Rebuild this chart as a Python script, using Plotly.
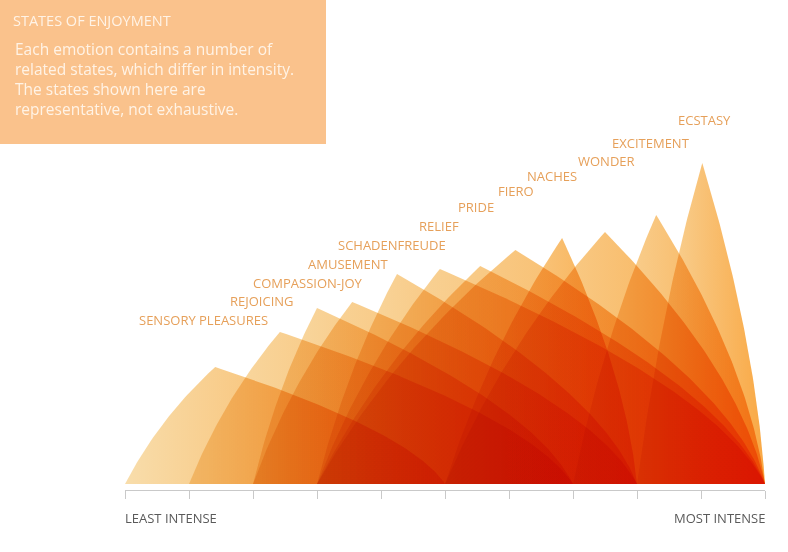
import numpy as np
import plotly.graph_objects as go

# ---------------- data ----------------
states = ["SENSORY PLEASURES", "REJOICING", "COMPASSION-JOY", "AMUSEMENT",
          "SCHADENFREUDE", "RELIEF", "PRIDE", "FIERO", "NACHES", "WONDER",
          "EXCITEMENT", "ECSTASY"]
range_start = [0, 1, 2, 2, 3, 3, 3, 3, 5, 5, 7, 8]
peak_x = [1.41, 2.42, 3.0, 3.55, 4.25, 4.92, 5.55, 6.1, 6.83, 7.5, 8.3, 9.02]
peak_h = [117, 152, 176, 182, 210, 215, 218, 234, 246, 252, 269, 321]
range_end = [5, 7, 7, 8, 8, 10, 10, 10, 8, 10, 10, 10]
tick_vals = list(range(11))

title_text = "STATES OF ENJOYMENT"
body_text = ("Each emotion contains a number of<br>related states, which differ in intensity.<br>"
             "The states shown here are<br>representative, not exhaustive.")

# ---------------- layout helpers ----------------
label_x = [1.234, 2.14, 2.86, 3.48, 4.17, 4.91, 5.48, 6.11, 6.67, 7.52, 8.22, 9.06]
label_y = [164, 183, 201, 220, 239, 258, 277, 293, 308, 323, 341, 364]

W, H = 788, 552
ML, MR, MT, MB = 125, 23, 0, 62
PW, PH = W - ML - MR, H - MT - MB
FONT = "Open Sans"


def px_to_paper_x(px):
    return (px - ML) / PW


def py_to_paper_y(py):
    return (PH - (py - MT)) / PH


def bez(p0, p1, p2, n):
    t = np.linspace(0, 1, n)
    x = (1 - t) ** 2 * p0[0] + 2 * (1 - t) * t * p1[0] + t ** 2 * p2[0]
    y = (1 - t) ** 2 * p0[1] + 2 * (1 - t) * t * p1[1] + t ** 2 * p2[1]
    return x, y


fig = go.Figure()

c_start = "rgb(248,221,171)"
c_end = "rgb(249,168,68)"

for i, name in enumerate(states):
    s, p, h, e = range_start[i], peak_x[i], peak_h[i], range_end[i]
    d = p - s
    lx, ly = bez((s, 0), (s + 0.375 * d, 0.56 * h), (p, h), 50)
    rx, ry = bez((p, h), (p + 0.85 * (e - p), 0.45 * h), (e, 0), 80)
    xs = np.concatenate([lx, rx[1:]])
    ys = np.concatenate([ly, ry[1:]])
    fig.add_trace(go.Scatter(
        x=xs, y=ys, mode="lines", fill="toself", name=name,
        line=dict(width=0, color="rgba(0,0,0,0)"),
        fillgradient=dict(type="horizontal",
                          colorscale=[[0, c_start], [1, c_end]]),
        hoverinfo="name", showlegend=False,
    ))

# state labels
for i, name in enumerate(states):
    fig.add_annotation(x=label_x[i], y=label_y[i], text=name, showarrow=False,
                       xanchor="center", yanchor="middle",
                       font=dict(family=FONT, size=13, color="#e6a05a"))

# title box
fig.add_shape(type="rect", xref="paper", yref="paper",
              x0=px_to_paper_x(0), x1=px_to_paper_x(326),
              y0=py_to_paper_y(144), y1=py_to_paper_y(0),
              fillcolor="#fac28c", line=dict(width=0), layer="below")
fig.add_annotation(xref="paper", yref="paper", x=px_to_paper_x(11), y=py_to_paper_y(21),
                   text=title_text, showarrow=False, xanchor="left", yanchor="middle",
                   font=dict(family=FONT, size=14.5, color="#fff3e6"))
fig.add_annotation(xref="paper", yref="paper", x=px_to_paper_x(13), y=py_to_paper_y(79.5),
                   text=body_text, showarrow=False, xanchor="left", yanchor="middle",
                   align="left",
                   font=dict(family=FONT, size=15.5, color="#fff3e6"))

# axis end labels
fig.add_annotation(xref="paper", yref="paper", x=0, y=py_to_paper_y(518),
                   text="LEAST INTENSE", showarrow=False, xanchor="left", yanchor="middle",
                   xshift=-2,
                   font=dict(family=FONT, size=13, color="#5a5a5a"))
fig.add_annotation(xref="paper", yref="paper", x=1, y=py_to_paper_y(518),
                   text="MOST INTENSE", showarrow=False, xanchor="right", yanchor="middle",
                   xshift=2,
                   font=dict(family=FONT, size=13, color="#5a5a5a"))

fig.update_layout(
    width=W, height=H,
    margin=dict(l=ML, r=MR, t=MT, b=MB),
    paper_bgcolor="white", plot_bgcolor="white",
    xaxis=dict(range=[0, 10], showline=True, linecolor="#c9c9c9", linewidth=1,
               ticks="outside", ticklen=8, tickcolor="#c9c9c9", tickwidth=1,
               tickvals=tick_vals, showticklabels=False, showgrid=False,
               zeroline=False, fixedrange=True),
    yaxis=dict(range=[-6, PH - 6], visible=False, fixedrange=True),
)

post = ("document.querySelectorAll('.scatterlayer .trace').forEach(function(g){"
        "g.style.mixBlendMode='multiply';});")
fig.write_html("out.html", post_script=post)
